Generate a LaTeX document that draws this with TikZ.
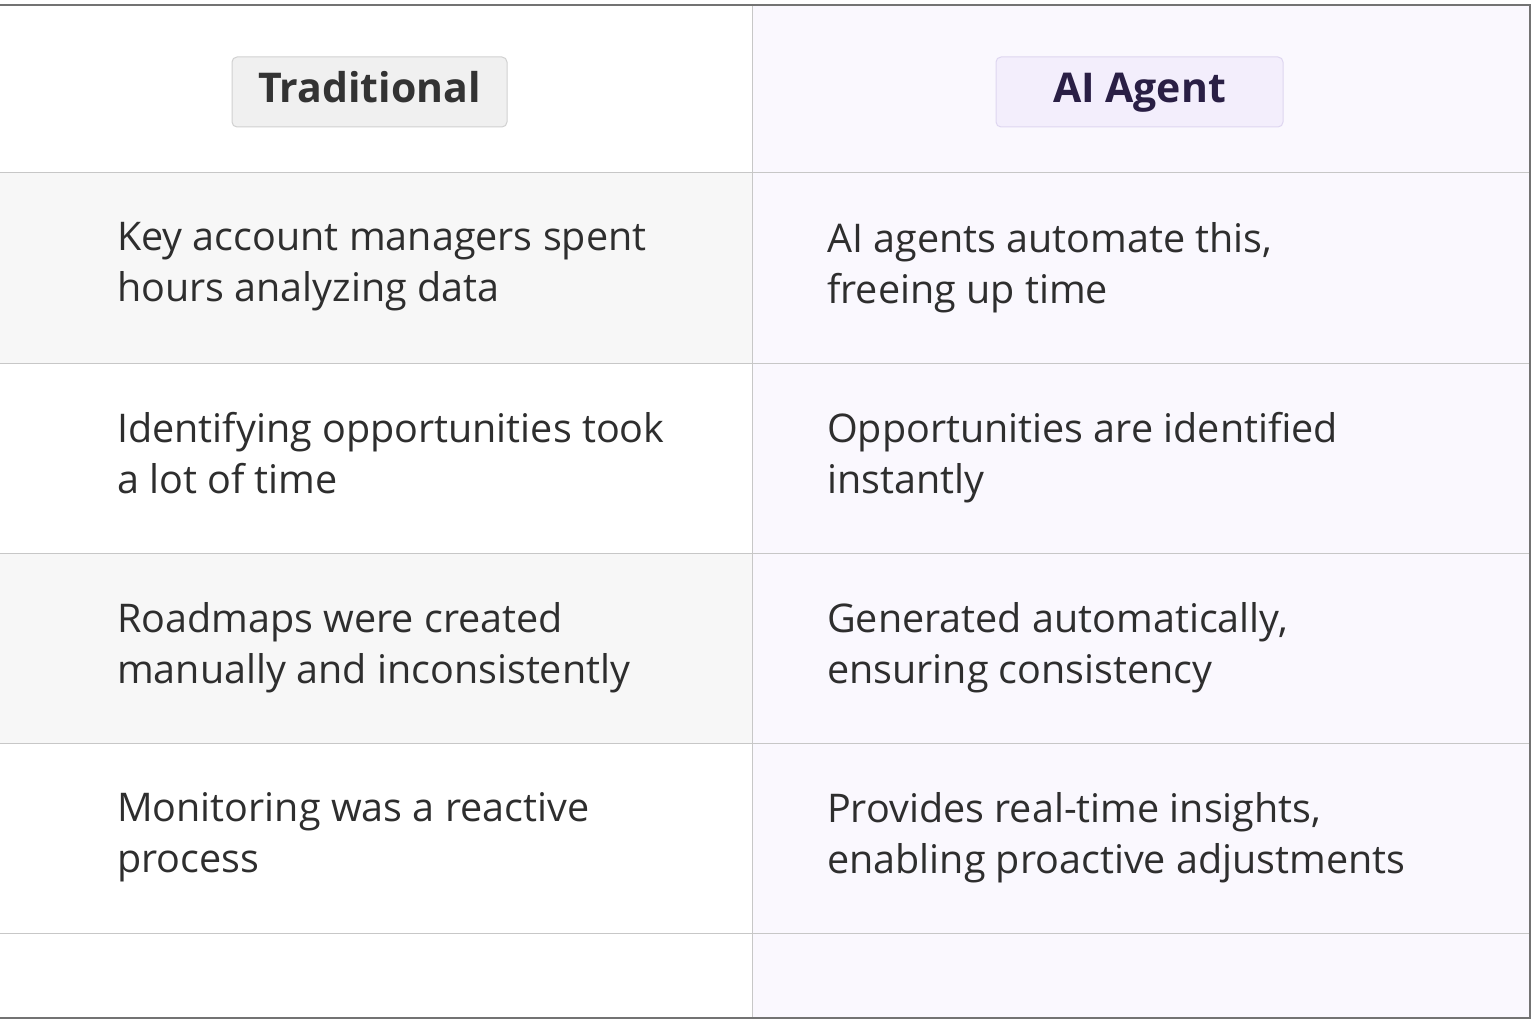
\documentclass[tikz,border=0pt]{standalone}
\usepackage{fontspec}
\setmainfont{Open Sans}
\definecolor{lav}{RGB}{250,248,254}
\definecolor{lavbox}{RGB}{243,238,252}
\definecolor{lavline}{RGB}{222,214,240}
\definecolor{agtxt}{RGB}{42,31,69}
\begin{document}
\begin{tikzpicture}[x=1pt,y=-1pt,
 grid/.style={draw=black!22,line width=1pt},
 cell/.style={anchor=north west,align=left,font=\fontsize{39.5}{51}\selectfont,text=black!82,inner sep=0pt},
 hdr/.style={rounded corners=5pt,minimum height=70pt,text height=30pt,text depth=8pt,font=\fontsize{41}{48}\selectfont\bfseries,line width=1pt}]
\useasboundingbox (0,0) rectangle (1536,1024);
\fill[white] (0,0) rectangle (1536,1024);
\fill[black!3] (0,173) rectangle (752,363);
\fill[black!3] (0,553) rectangle (752,743);
\fill[lav] (752,5) rectangle (1530,1018);
\foreach \y in {173,363,553,743,933} \draw[grid] (0,\y) -- (1530,\y);
\draw[grid] (752,5) -- (752,1018);
\draw[black!55,line width=1.2pt] (0,5) -- (1530,5) -- (1530,1018) -- (0,1018);
\node[hdr,draw=black!18,fill=black!6,minimum width=275pt,text=black!80] (th) at (369.5,92) {Traditional};
\node[hdr,draw=lavline,fill=lavbox,minimum width=287pt,text=agtxt] (ah) at (1139.5,92) {AI Agent};
\node[cell] (l1) at (117,222) {Key account managers spent\\hours analyzing data};
\node[cell] (r1) at (827,222) {AI agents automate this,\\freeing up time};
\node[cell] (l2) at (117,412) {Identifying opportunities took\\a lot of time};
\node[cell] (r2) at (827,412) {Opportunities are identified\\instantly};
\node[cell] (l3) at (117,602) {Roadmaps were created\\manually and inconsistently};
\node[cell] (r3) at (827,602) {Generated automatically,\\ensuring consistency};
\node[cell] (l4) at (117,792) {Monitoring was a reactive\\process};
\node[cell] (r4) at (827,792) {Provides real-time insights,\\enabling proactive adjustments};
\end{tikzpicture}
\end{document}
